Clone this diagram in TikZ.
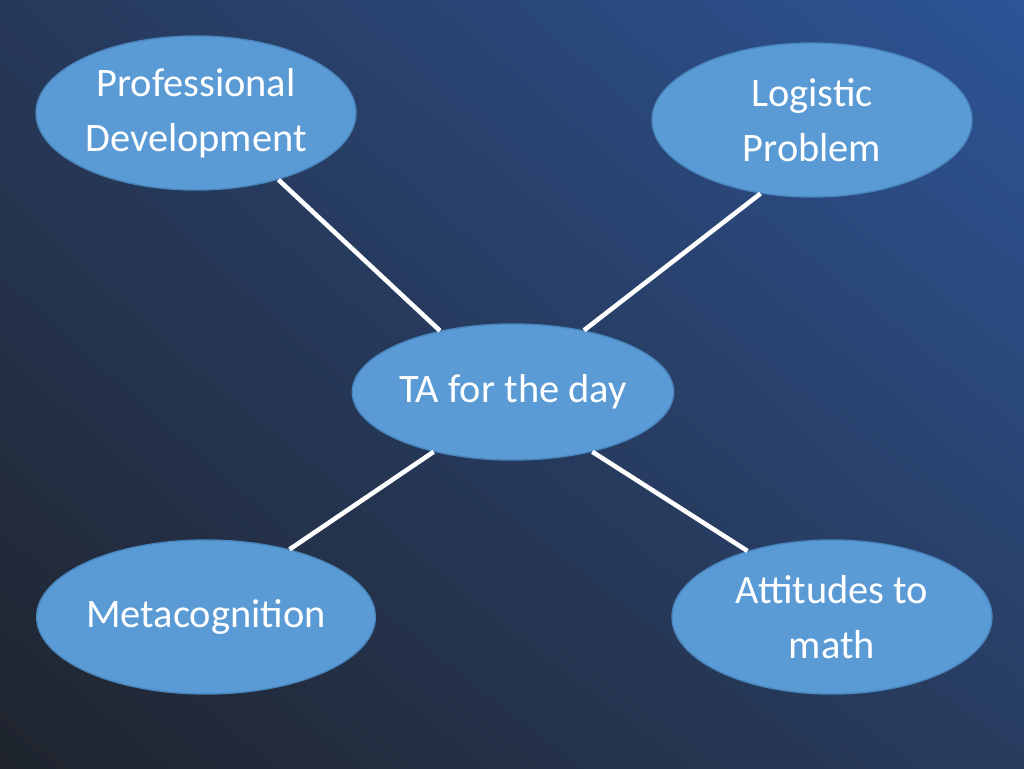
\documentclass[tikz,border=0pt]{standalone}
\usepackage{fontspec}
\setmainfont{Carlito}
\usetikzlibrary{shapes.geometric}
\usetikzlibrary{shadings}
\definecolor{bgul}{HTML}{27395A}
\definecolor{bgur}{HTML}{2D5497}
\definecolor{bgll}{HTML}{1F242D}
\definecolor{bglr}{HTML}{283C5F}
\definecolor{bubble}{HTML}{5B9BD5}
\definecolor{bubbleline}{HTML}{4A86BE}
\tikzset{
	every node/.style = {font=\fontsize{23}{31}\selectfont, text=white},
	topic/.style = {ellipse, fill=bubble, draw=bubbleline, line width=0.8pt,
		minimum width=6.4cm, minimum height=3.08cm, inner sep=0pt, align=center},
	link/.style = {draw=white, line width=2.6pt}
}
\begin{document}
\begin{tikzpicture}[x=0.02cm, y=-0.02cm]
		% background
		\shade[upper left=bgul, upper right=bgur, lower left=bgll, lower right=bglr]
			(0,0) rectangle (1024,768);
		\useasboundingbox (0,0) rectangle (1024,768);
		
		% centre and topics
		\node[topic, minimum width=6.28cm, minimum height=2.72cm] (ta) at (513,392) {TA for the day};
		\node[topic] (prof) at (196,113) {Professional\\Development};
		\node[topic] (logi) at (812,120) {Logistic\\Problem};
		\node[topic] (meta) at (206,617) {Metacognition};
		\node[topic] (atti) at (832,617) {Attitudes to\\math};
		
		% links
		\draw[link] (prof.-39) -- (ta.140);
		\draw[link] (logi.-125) -- (ta.41);
		\draw[link] (meta.39) -- (ta.-143);
		\draw[link] (atti.142) -- (ta.-37);
	\end{tikzpicture}
\end{document}
